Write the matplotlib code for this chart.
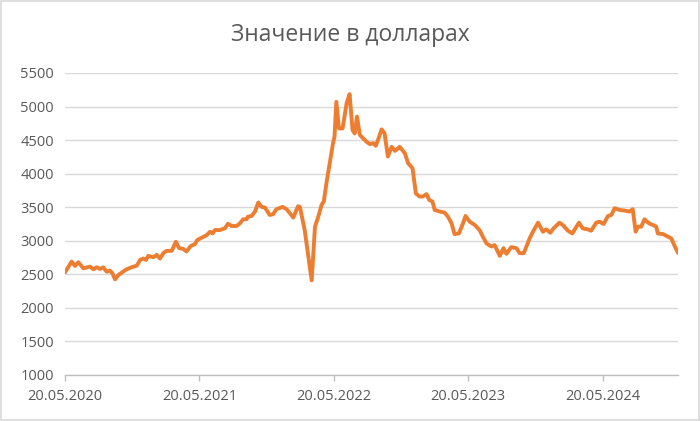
import matplotlib
matplotlib.use("Agg")
import matplotlib.dates as mdates
import matplotlib.pyplot as plt
import matplotlib.patches as mpatches
import pandas as pd

# ─── DATA ────────────────────────────────────────────────────────────────────
START = "2020-05-20"

# days since 20.05.2020
day_offsets = [
    0, 3, 18, 27, 36, 50, 68, 77, 86, 95, 104, 113, 122, 129, 136, 145, 154,
    167, 181, 195, 204, 213, 220, 226, 240, 249, 258, 267, 276, 290, 301, 310,
    321, 330, 341, 353, 359, 371, 385, 394, 401, 407, 421, 434, 443, 452, 466,
    475, 484, 493, 497, 507, 516, 525, 534, 543, 556, 565, 574, 591, 602, 611,
    620, 633, 638, 651, 660, 670, 679, 688, 697, 703, 710, 719, 728, 732, 737,
    744, 754, 765, 773, 781, 787, 793, 801, 810, 819, 828, 837, 844, 850, 860,
    868, 877, 887, 896, 905, 909, 923, 932, 944, 953, 963, 972, 982, 989, 998,
    1004, 1018, 1031, 1040, 1050, 1058, 1070, 1081, 1088, 1099, 1113, 1126,
    1135, 1145, 1158, 1167, 1181, 1191, 1199, 1212, 1226, 1235, 1246, 1262,
    1271, 1285, 1298, 1307, 1318, 1327, 1343, 1352, 1366, 1378, 1396, 1406,
    1420, 1429, 1443, 1452, 1463, 1475, 1484, 1493, 1506, 1520, 1533, 1542,
    1550, 1556, 1565, 1574, 1586, 1597, 1606, 1610, 1624, 1638, 1647, 1656,
    1665,
]

usd_value = [
    2530, 2555, 2690, 2625, 2680, 2590, 2615, 2575, 2605, 2580, 2605, 2540,
    2555, 2515, 2425, 2490, 2525, 2575, 2605, 2630, 2715, 2735, 2715, 2775,
    2755, 2790, 2735, 2815, 2850, 2850, 2985, 2890, 2880, 2840, 2920, 2950,
    3010, 3045, 3085, 3135, 3110, 3160, 3160, 3185, 3255, 3220, 3220, 3260,
    3320, 3320, 3360, 3370, 3435, 3570, 3505, 3495, 3385, 3395, 3470, 3505,
    3470, 3410, 3345, 3515, 3505, 3160, 2810, 2410, 3210, 3360, 3535, 3585,
    3855, 4155, 4455, 4550, 5070, 4675, 4675, 5050, 5185, 4650, 4600, 4850,
    4575, 4525, 4475, 4440, 4455, 4415, 4500, 4660, 4600, 4255, 4400, 4340,
    4380, 4400, 4305, 4155, 4080, 3705, 3660, 3660, 3695, 3610, 3585, 3460,
    3435, 3420, 3360, 3260, 3100, 3110, 3260, 3370, 3285, 3235, 3160, 3060,
    2960, 2915, 2935, 2775, 2890, 2805, 2905, 2890, 2815, 2815, 3035, 3135,
    3270, 3135, 3170, 3120, 3185, 3270, 3235, 3150, 3110, 3270, 3185, 3170,
    3150, 3270, 3285, 3250, 3370, 3385, 3485, 3460, 3450, 3435, 3470, 3135,
    3210, 3210, 3320, 3260, 3235, 3210, 3110, 3100, 3060, 3035, 2920, 2820,
]

tick_dates = ["2020-05-20", "2021-05-20", "2022-05-20", "2023-05-20", "2024-05-20"]
y_ticks = [1000, 1500, 2000, 2500, 3000, 3500, 4000, 4500, 5000, 5500]
TITLE = "Значение в долларах"

dates = pd.Timestamp(START) + pd.to_timedelta(day_offsets, unit="D")
ticks = pd.to_datetime(tick_dates)

# ─── STYLE ───────────────────────────────────────────────────────────────────
plt.rcParams["font.family"] = ["Open Sans", "DejaVu Sans"]
TEXT = "#595959"
GRID = "#D9D9D9"
ORANGE = "#ED7D31"

fig = plt.figure(figsize=(7.0, 4.21), dpi=100)
fig.patch.set_facecolor("white")
ax = fig.add_axes([65 / 700, 1 - 375 / 421, (678 - 65) / 700, (375 - 73) / 421])

ax.plot(dates, usd_value, color=ORANGE, lw=2.8, solid_joinstyle="round",
        solid_capstyle="round", zorder=3)

ax.set_xlim(dates[0], dates[-1])
ax.set_ylim(y_ticks[0], y_ticks[-1])
ax.set_yticks(y_ticks)
ax.set_xticks(ticks)
ax.xaxis.set_major_formatter(mdates.DateFormatter("%d.%m.%Y"))

ax.grid(axis="y", color=GRID, lw=1.0, zorder=0)
ax.grid(axis="x", visible=False)
for side in ("top", "right", "left"):
    ax.spines[side].set_visible(False)
ax.spines["bottom"].set_color("#BFBFBF")
ax.spines["bottom"].set_linewidth(1.0)

ax.tick_params(axis="y", length=0, pad=8, labelsize=10.5, labelcolor=TEXT)
ax.tick_params(axis="x", length=4, width=1.0, color="#BFBFBF", pad=6,
               labelsize=10.5, labelcolor=TEXT)

fig.text(0.5, 1 - 35 / 421, TITLE, ha="center", va="center",
         fontsize=16.5, color=TEXT)

# chart frame like the spreadsheet export
fig.patches.append(mpatches.Rectangle((0.002, 0.003), 0.996, 0.994,
                                      transform=fig.transFigure, fill=False,
                                      edgecolor="#D9D9D9", lw=1.2))

fig.savefig("out.png", dpi=100, facecolor="white")
